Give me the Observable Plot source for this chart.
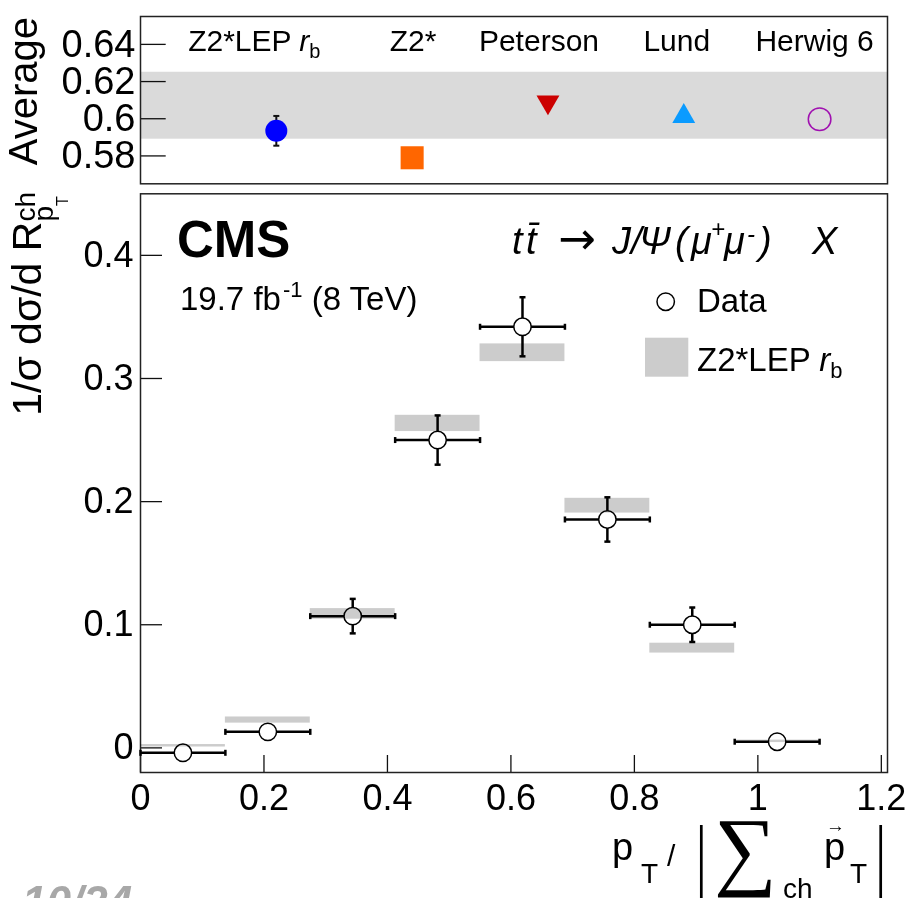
<!DOCTYPE html>
<html><head><meta charset="utf-8">
<script src="https://cdn.jsdelivr.net/npm/d3@7"></script>
<script src="https://cdn.jsdelivr.net/npm/@observablehq/plot@0.6"></script>
<style>
body{margin:0;background:#fff;}
#wrap{position:relative;width:910px;height:898px;overflow:hidden;font-family:"Liberation Sans",Arial,Helvetica,sans-serif;}
#wrap > svg{position:absolute;left:0;}
</style></head><body><div id="wrap"></div>
<script>
// ---------- data: main panel ----------
const binEdges   = [0, 0.1375, 0.275, 0.4125, 0.55, 0.6875, 0.825, 0.9625, 1.1];
const dataValues = [-0.004, 0.013, 0.107, 0.250, 0.342, 0.1855, 0.100, 0.005];
const dataErrors = [0.002, 0.003, 0.014, 0.020, 0.024, 0.018, 0.014, 0.002];
const mcValues   = [0.0017, 0.0226, 0.1088, 0.2635, 0.3209, 0.1967, 0.081, 0.0053];
const mcErrors   = [0.001, 0.0025, 0.0043, 0.0066, 0.0072, 0.006, 0.004, 0.001];
const xTicks = [0, 0.2, 0.4, 0.6, 0.8, 1, 1.2];
const yTicks = [0, 0.1, 0.2, 0.3, 0.4];

// ---------- data: top panel ----------
const modelNames  = ["Z2*LEP rb", "Z2*", "Peterson", "Lund", "Herwig 6"];
const modelPos    = [1, 2, 3, 4, 5];
const modelValues = [0.5935, 0.579, 0.6072, 0.6031, 0.5997];
const modelErrors = [0.008, 0, 0, 0, 0];
const dataAverage = 0.607;
const dataAverageError = 0.018;
const topTicks = [0.58, 0.6, 0.62, 0.64];

const FONT = '"Liberation Sans", Arial, Helvetica, sans-serif';
const wrap = document.getElementById("wrap");

const hCap = {draw(ctx, size){const w = Math.sqrt(size/Math.PI); ctx.moveTo(-w,0); ctx.lineTo(w,0);}};
const vCap = {draw(ctx, size){const w = Math.sqrt(size/Math.PI); ctx.moveTo(0,-w); ctx.lineTo(0,w);}};

// ---------- top panel ----------
const models = modelNames.map((n,i)=>({name:n, pos:modelPos[i], val:modelValues[i], lo:modelValues[i]-modelErrors[i], hi:modelValues[i]+modelErrors[i]}));
const topW = 910, topH = 190, topML = 140, topMR = 23, topMT = 16, topMB = 6.7;
const topInnerW = topW - topML - topMR;
const labelDx = [-22, 1, -9, -7, -5];
const topMarks = [
  Plot.ruleY(topTicks, {y: d=>d, insetRight: topInnerW - 25.7, stroke: "#111", strokeWidth: 1.3}),
  Plot.rect([{lo: dataAverage - dataAverageError, hi: dataAverage + dataAverageError}], {y1: "lo", y2: "hi", fill: "#dadada", mixBlendMode: "multiply"}),
  Plot.frame({stroke: "#222", strokeWidth: 1.5}),
  Plot.axisY({ticks: topTicks, tickSize: 0, tickPadding: 5, tickFormat: d=>String(d), fontSize: 38, label: null}),
  Plot.ruleX(models.filter(d=>d.hi>d.lo), {x: "pos", y1: "lo", y2: "hi", stroke: "#111", strokeWidth: 2}),
  Plot.dot(models.filter(d=>d.hi>d.lo), {x: "pos", y: "hi", symbol: hCap, r: 3, stroke: "#111", strokeWidth: 2}),
  Plot.dot(models.filter(d=>d.hi>d.lo), {x: "pos", y: "lo", symbol: hCap, r: 3, stroke: "#111", strokeWidth: 2}),
  Plot.dot(models.filter(d=>d.name==="Z2*LEP rb"), {x: "pos", y: "val", r: 11, fill: "#0000ff"}),
  Plot.dot(models.filter(d=>d.name==="Z2*"), {x: "pos", y: "val", symbol: "square", r: 13, fill: "#ff6600"}),
  Plot.dot(models.filter(d=>d.name==="Peterson"), {x: "pos", y: "val", symbol: "triangle", rotate: 180, r: 8.5, dy: -3.3, fill: "#cc0000"}),
  Plot.dot(models.filter(d=>d.name==="Lund"), {x: "pos", y: "val", symbol: "triangle", r: 8.5, dy: 3.3, fill: "#0a9bff"}),
  Plot.dot(models.filter(d=>d.name==="Herwig 6"), {x: "pos", y: "val", r: 11.3, fill: "none", stroke: "#a010b0", strokeWidth: 1.5}),
  ...models.map((m,i)=>Plot.text([m], {x: "pos", text: "name", frameAnchor: "top", lineAnchor: "bottom", dy: 34, dx: labelDx[i], fontSize: 30, fill: "#000"}))
];
const topChart = Plot.plot({
  width: topW, height: topH, marginLeft: topML, marginRight: topMR, marginTop: topMT, marginBottom: topMB,
  x: {domain: [0, 5.5], axis: null},
  y: {domain: [0.565, 0.655], axis: null},
  style: {fontFamily: FONT, fontSize: "38px", background: "white", overflow: "visible"},
  marks: topMarks
});
topChart.style.top = "0px";
wrap.appendChild(topChart);
// rich label: italic r with subscript b
d3.select(topChart).selectAll("text").filter(function(){return this.textContent === "Z2*LEP rb";}).each(function(){
  const t = d3.select(this); t.text("");
  t.append("tspan").text("Z2*LEP ");
  t.append("tspan").attr("font-style","italic").text("r");
  t.append("tspan").attr("font-size", 20).attr("dy", 7).text("b");
});

// ---------- main panel ----------
const rows = dataValues.map((v,i)=>({x:(binEdges[i]+binEdges[i+1])/2, xlo:binEdges[i], xhi:binEdges[i+1], y:v, lo:v-dataErrors[i], hi:v+dataErrors[i]}));
const mc = mcValues.map((v,i)=>({x1:binEdges[i], x2:binEdges[i+1], y1:v-mcErrors[i], y2:v+mcErrors[i]}));
const mW = 910, mH = 708, mML = 140, mMR = 23, mMT = 3.3, mMB = 126;
const mInnerW = mW - mML - mMR, mInnerH = mH - mMT - mMB;
const mainChart = Plot.plot({
  width: mW, height: mH, marginLeft: mML, marginRight: mMR, marginTop: mMT, marginBottom: mMB,
  x: {domain: [0, 1.21], axis: null},
  y: {domain: [-0.02, 0.45], axis: null},
  style: {fontFamily: FONT, fontSize: "36px", background: "white", overflow: "visible"},
  marks: [
    Plot.ruleX(xTicks, {x: d=>d, insetTop: mInnerH - 17, stroke: "#111", strokeWidth: 1.3}),
    Plot.ruleY(yTicks, {y: d=>d, insetRight: mInnerW - 22, stroke: "#111", strokeWidth: 1.3}),
    Plot.frame({stroke: "#222", strokeWidth: 1.5}),
    Plot.axisX({ticks: xTicks, tickSize: 0, tickPadding: 12, tickFormat: d=>String(d), fontSize: 36, label: null}),
    Plot.axisY({ticks: yTicks, tickSize: 0, tickPadding: 7, tickFormat: d=>String(d), fontSize: 36, label: null}),
    Plot.ruleX(rows, {x: "x", y1: "lo", y2: "hi", stroke: "#000", strokeWidth: 2.5}),
    Plot.ruleY(rows, {y: "y", x1: "xlo", x2: "xhi", stroke: "#000", strokeWidth: 2.5}),
    Plot.dot(rows, {x: "x", y: "hi", symbol: hCap, r: 3, stroke: "#000", strokeWidth: 2.5}),
    Plot.dot(rows, {x: "x", y: "lo", symbol: hCap, r: 3, stroke: "#000", strokeWidth: 2.5}),
    Plot.dot(rows, {x: "xlo", y: "y", symbol: vCap, r: 3, stroke: "#000", strokeWidth: 2.5}),
    Plot.dot(rows, {x: "xhi", y: "y", symbol: vCap, r: 3, stroke: "#000", strokeWidth: 2.5}),
    Plot.dot(rows, {x: "x", y: "y", r: 8.7, fill: "white", stroke: "#000", strokeWidth: 1.5}),
    Plot.rect(mc, {x1: "x1", x2: "x2", y1: "y1", y2: "y2", fill: "#cccccc", mixBlendMode: "multiply"})
  ]
});
mainChart.style.top = "190px";
wrap.appendChild(mainChart);

// ---------- annotations overlay ----------
const ov = d3.create("svg").attr("width", 910).attr("height", 898)
  .style("top","0px").style("pointer-events","none").style("overflow","hidden")
  .attr("font-family", FONT).attr("fill", "#000");

// Top panel y title
ov.append("text").attr("transform","translate(37,17) rotate(-90)").attr("text-anchor","end").attr("font-size",40).text("Average");

// Main y title
const yt = ov.append("text").attr("transform","translate(41,192) rotate(-90)").attr("text-anchor","end").attr("font-size",41);
yt.append("tspan").text("1/σ dσ/d R");
yt.append("tspan").attr("font-size",28).attr("dy",-6).text("ch");
yt.append("tspan").attr("font-size",28).attr("dx",-29.6).attr("dy",18).text("p");
yt.append("tspan").attr("font-size",16).attr("dy",15).text("T");

// CMS
ov.append("text").attr("x",177).attr("y",256.7).attr("font-size",51).attr("font-weight","bold").text("CMS");
const lumi = ov.append("text").attr("x",180).attr("y",310).attr("font-size",33);
lumi.append("tspan").text("19.7 fb");
lumi.append("tspan").attr("font-size",22).attr("dy",-13).attr("dx",2).text("-1");
lumi.append("tspan").attr("dy",13).attr("dx",0).text(" (8 TeV)");

// Process title
const tt = ov.append("text").attr("font-size",38).attr("font-style","italic");
const tp = [
  {x:512, y:254, t:"t"}, {x:526, y:254, t:"t\u0304"},
  {x:558, y:254, t:"→", s:"normal", f:45, ff:'"DejaVu Sans", sans-serif'},
  {x:612, y:254, t:"J/"}, {x:639, y:254, t:"Ψ"}, {x:675, y:254, t:"("}, {x:691, y:254, t:"μ"},
  {x:711, y:237, t:"+", f:24}, {x:724, y:254, t:"μ"}, {x:747, y:242, t:"-", f:24},
  {x:759, y:254, t:")"}, {x:812, y:254, t:"X"}
];
tp.forEach(p=>{
  const s = tt.append("tspan").attr("x",p.x).attr("y",p.y).text(p.t);
  if (p.f) s.attr("font-size",p.f);
  if (p.s) s.attr("font-style",p.s);
  if (p.ff) s.attr("font-family",p.ff);
});

// Legend
ov.append("circle").attr("cx",665.7).attr("cy",301.7).attr("r",8.7).attr("fill","white").attr("stroke","#000").attr("stroke-width",1.5);
ov.append("text").attr("x",697).attr("y",311.7).attr("font-size",33).text("Data");
ov.append("rect").attr("x",645).attr("y",337.7).attr("width",43.3).attr("height",39).attr("fill","#cccccc");
const lg = ov.append("text").attr("x",697).attr("y",370.7).attr("font-size",33);
lg.append("tspan").text("Z2*LEP ");
lg.append("tspan").attr("font-style","italic").text("r");
lg.append("tspan").attr("font-size",22).attr("dy",7).text("b");

// X title
const xp = [
  {x:612, y:860, t:"p", f:38}, {x:641, y:883, t:"T", f:28}, {x:667, y:866, t:"/", f:30},
  {x:714, y:879, t:"∑", f:88, ff:'"Liberation Serif", "DejaVu Serif", serif'},
  {x:783, y:898, t:"ch", f:28}, {x:824, y:860, t:"p", f:38}, {x:826, y:832, t:"→", f:19},
  {x:850, y:883, t:"T", f:28}
];
xp.forEach(p=>{
  const s = ov.append("text").attr("x",p.x).attr("y",p.y).attr("font-size",p.f).text(p.t);
  if (p.ff) s.attr("font-family",p.ff);
});
// absolute-value delimiters
[701.3, 880.7].forEach(x=>{
  ov.append("line").attr("x1",x).attr("x2",x).attr("y1",825).attr("y2",900).attr("stroke","#000").attr("stroke-width",2.7);
});

// page number (partially cut)
ov.append("text").attr("x",22).attr("y",917).attr("font-size",44).attr("font-weight","bold").attr("font-style","italic").attr("fill","#a8a8a8").text("10/24");

wrap.appendChild(ov.node());
</script>
</body></html>
